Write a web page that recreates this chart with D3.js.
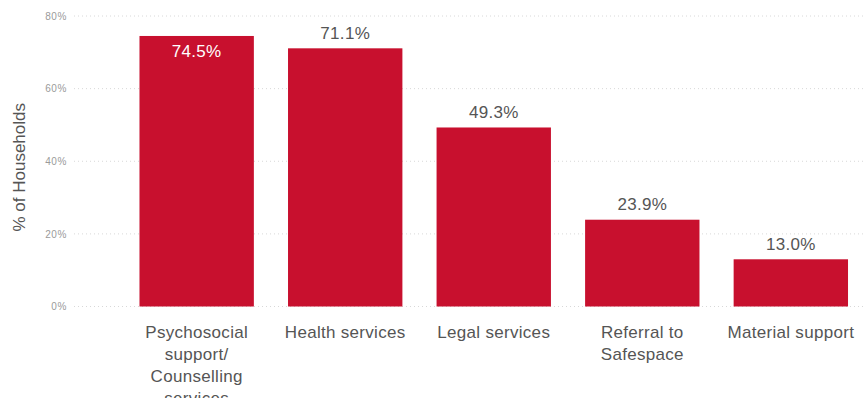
<!DOCTYPE html>
<html>
<head>
<meta charset="utf-8">
<script src="https://cdn.jsdelivr.net/npm/d3@7"></script>
<style>
  html, body { margin: 0; padding: 0; background: #fff; }
  svg { display: block; }
  text { font-family: "Liberation Sans", Arial, sans-serif; }
</style>
</head>
<body>
<svg id="chart" width="864" height="398"></svg>
<script>
// Share of households reporting each type of service
const categories = [
  "Psychosocial support/ Counselling services",
  "Health services",
  "Legal services",
  "Referral to Safespace",
  "Material support"
];
const categoryLines = [
  ["Psychosocial", "support/", "Counselling", "services"],
  ["Health services"],
  ["Legal services"],
  ["Referral to", "Safespace"],
  ["Material support"]
];
const values = [74.5, 71.1, 49.3, 23.9, 13.0];
const yTicks = [0, 20, 40, 60, 80];

const svg = d3.select("#chart");
const W = 864, H = 398;

const x = d3.scaleBand()
  .domain(categories)
  .range([122.4, 865.1])
  .paddingInner(0.23)
  .paddingOuter(0.115);

const y = d3.scaleLinear()
  .domain([0, 80])
  .range([306.5, 16]);

// Dotted horizontal gridlines
svg.append("g")
  .selectAll("line")
  .data(yTicks)
  .join("line")
  .attr("x1", 74)
  .attr("x2", W)
  .attr("y1", d => y(d))
  .attr("y2", d => y(d))
  .attr("stroke", "#d8d8d8")
  .attr("stroke-width", 1)
  .attr("stroke-dasharray", "1,3");

// Y axis tick labels
const yAxis = d3.axisLeft(y)
  .tickValues(yTicks)
  .tickFormat(d => d + "%")
  .tickSize(0)
  .tickPadding(0);
const gy = svg.append("g")
  .attr("transform", "translate(67,0)")
  .call(yAxis);
gy.select(".domain").remove();
gy.selectAll("text")
  .attr("fill", "#9a9a9a")
  .style("font-size", "10px")
  .style("letter-spacing", "0.6px");

// Y axis title
svg.append("text")
  .attr("transform", `translate(25,${(y(0) + y(80)) / 2 + 6}) rotate(-90)`)
  .attr("text-anchor", "middle")
  .attr("fill", "#555")
  .style("font-size", "17px")
  .text("% of Households");

// Bars
svg.append("g")
  .selectAll("rect")
  .data(values)
  .join("rect")
  .attr("x", (d, i) => x(categories[i]))
  .attr("y", d => y(d))
  .attr("width", x.bandwidth())
  .attr("height", d => y(0) - y(d))
  .attr("fill", "#c8102e");

// Value labels: the tallest bar carries its label inside
const maxVal = d3.max(values);
svg.append("g")
  .selectAll("text")
  .data(values)
  .join("text")
  .attr("x", (d, i) => x(categories[i]) + x.bandwidth() / 2)
  .attr("y", d => d === maxVal ? y(d) + 21 : y(d) - 9.5)
  .attr("text-anchor", "middle")
  .attr("fill", d => d === maxVal ? "#fff" : "#555")
  .style("font-size", "17px")
  .style("letter-spacing", "0.3px")
  .text(d => d.toFixed(1) + "%");

// Category labels under the bars
const xl = svg.append("g")
  .selectAll("text")
  .data(categories)
  .join("text")
  .attr("x", d => x(d) + x.bandwidth() / 2)
  .attr("y", 338)
  .attr("text-anchor", "middle")
  .attr("fill", "#555")
  .style("font-size", "17px")
  .style("letter-spacing", "0.3px");
xl.selectAll("tspan")
  .data((d, i) => categoryLines[i])
  .join("tspan")
  .attr("x", function () { return this.parentNode.getAttribute("x"); })
  .attr("dy", (d, i) => i === 0 ? 0 : 22)
  .text(d => d);
</script>
</body>
</html>
